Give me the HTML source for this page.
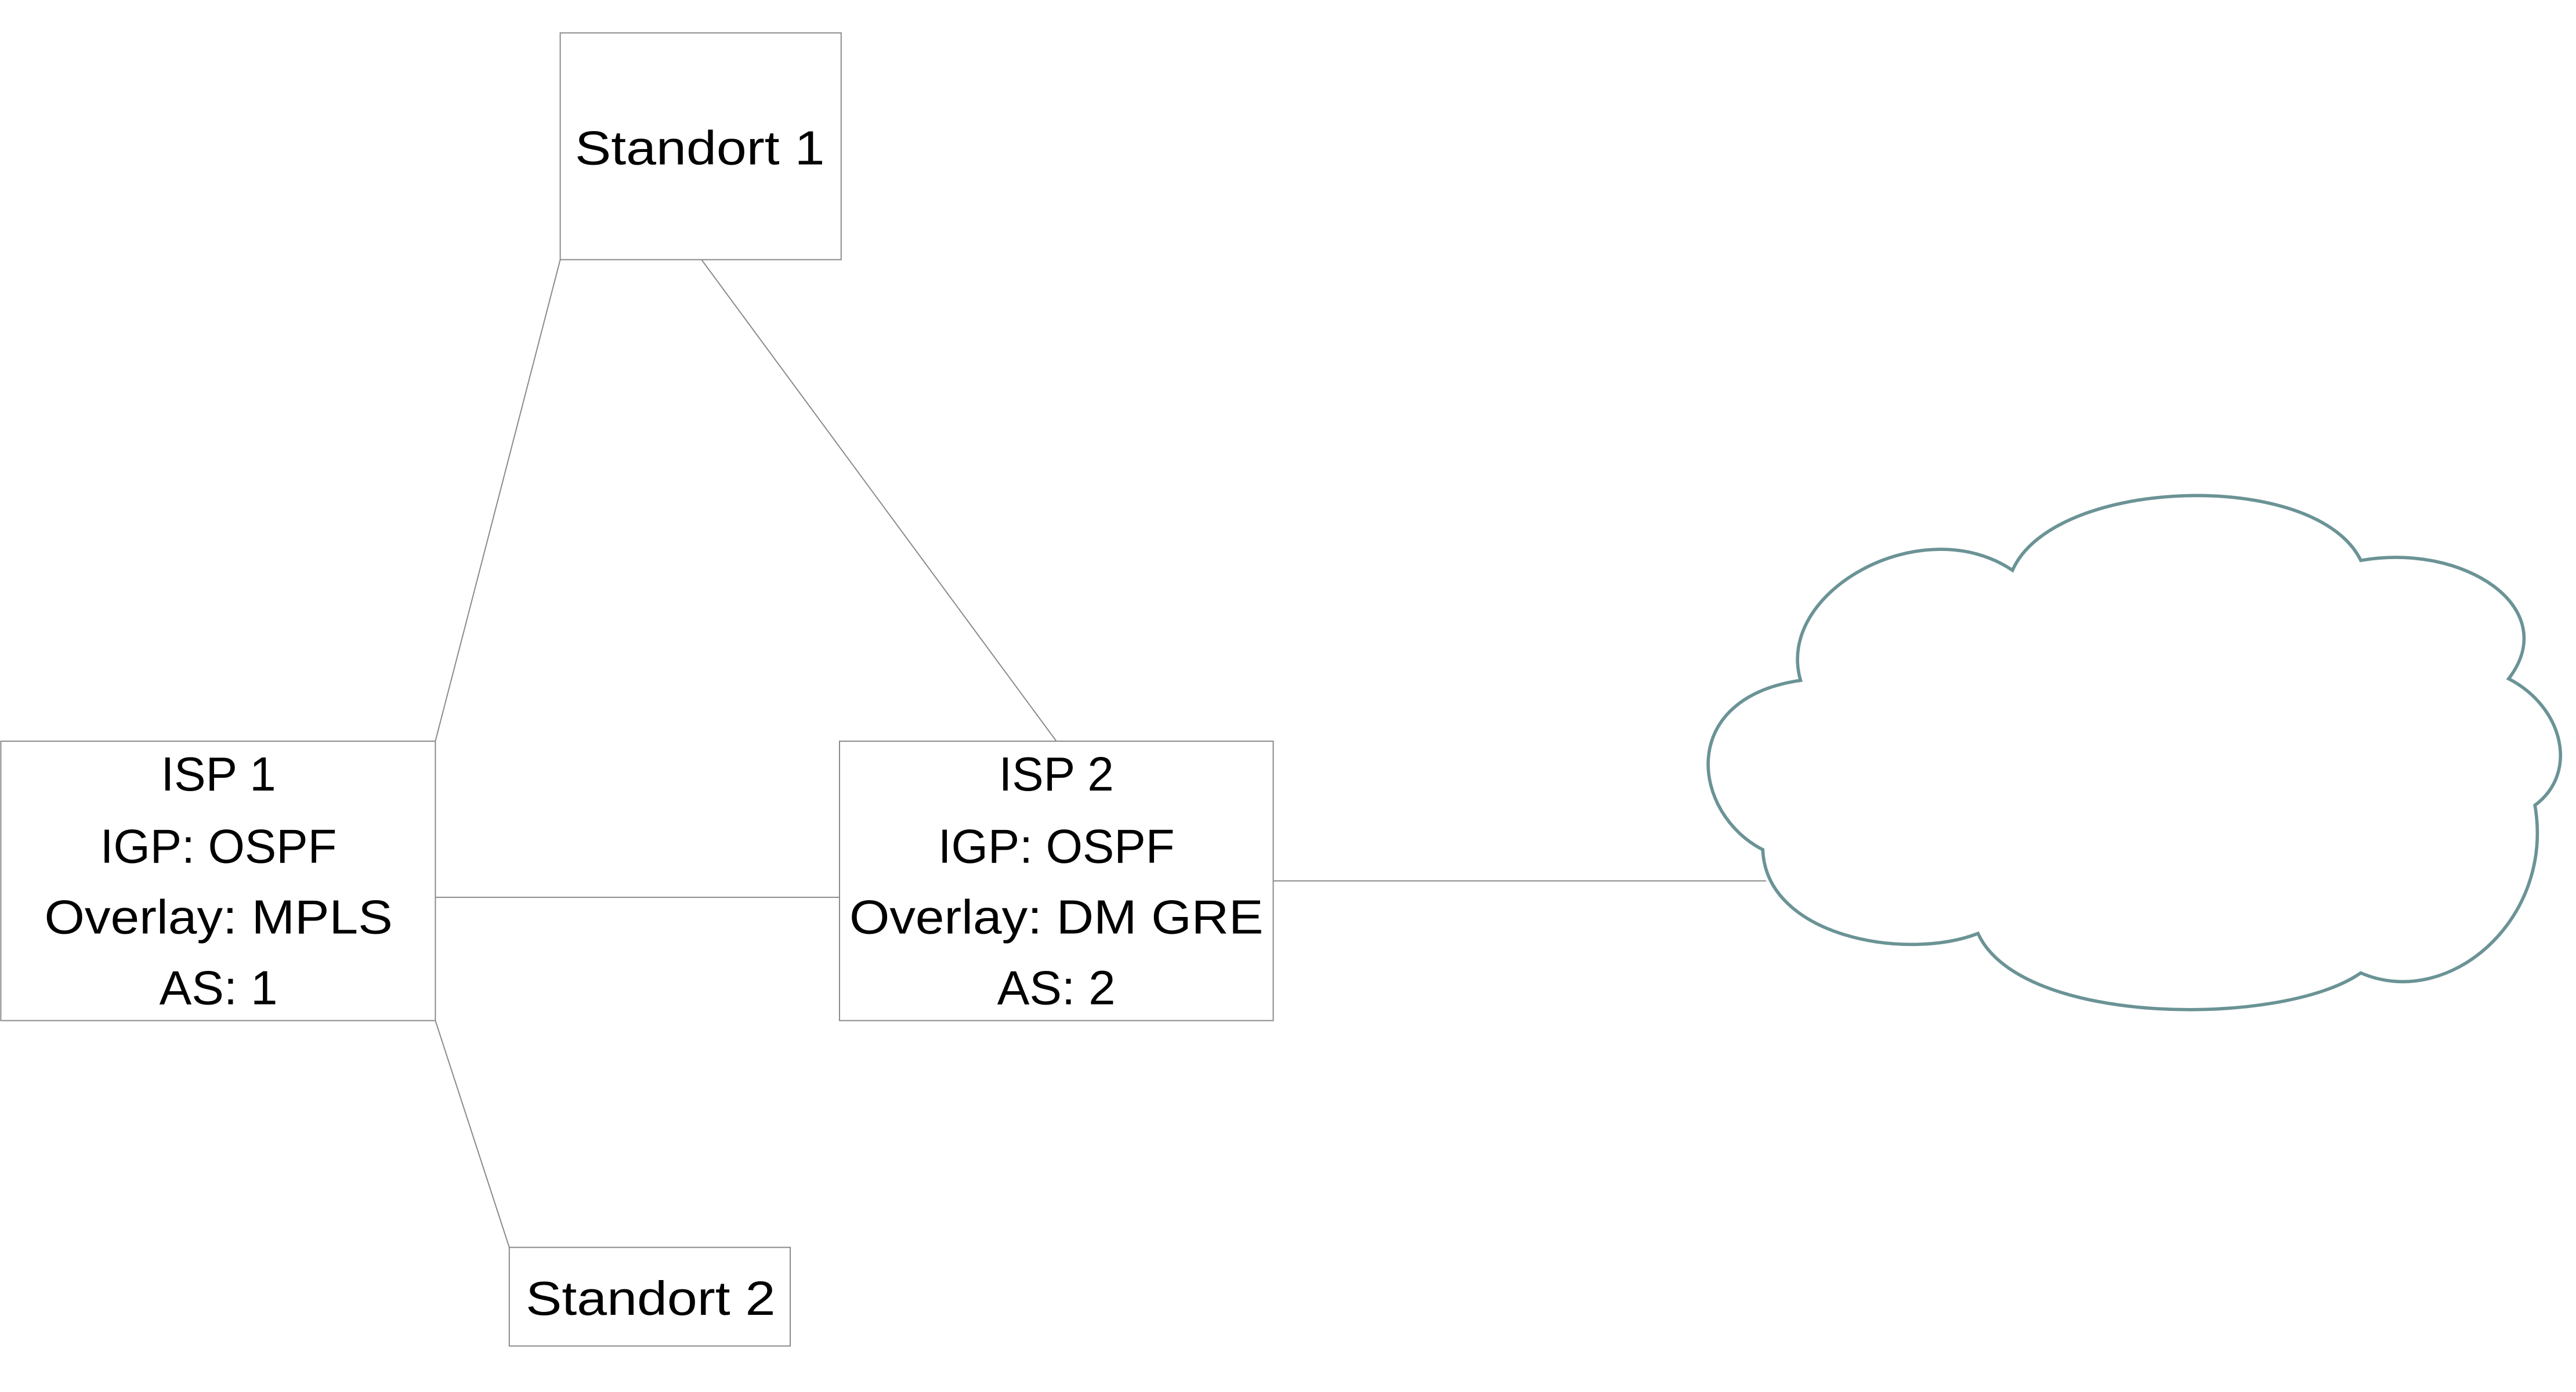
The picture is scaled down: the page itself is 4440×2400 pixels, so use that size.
<!DOCTYPE html>
<html><head><meta charset="utf-8"><style>
html,body{margin:0;padding:0;background:#fff;}
svg{display:block;}
text{font-family:"Liberation Sans",sans-serif;font-size:29px;fill:#000;text-anchor:middle;}
</style></head><body>
<svg width="4440" height="2400" viewBox="0 0 1568 847" preserveAspectRatio="none" xmlns="http://www.w3.org/2000/svg">
<rect width="1568" height="847" fill="#fff"/>
<g stroke="#8a8a8a" stroke-width="0.7" fill="none">
<line x1="341" y1="158" x2="265" y2="451"/>
<line x1="427" y1="158" x2="643" y2="451"/>
<line x1="265" y1="546" x2="511" y2="546"/>
<line x1="265" y1="621" x2="310" y2="759"/>
<line x1="775" y1="536" x2="1075" y2="536"/>
<rect x="341" y="20" width="171" height="138"/>
<rect x="0.5" y="451" width="264.5" height="170"/>
<rect x="511" y="451" width="264" height="170"/>
<rect x="310" y="759" width="171" height="60"/>
</g>
<path d="M1073,517 C1030,495 1020,425 1096,414 C1080,360 1170,310 1225,347 C1250,290 1410,285 1437,341 C1500,330 1560,370 1527,413 C1560,430 1570,470 1543,490 C1555,560 1490,615 1437,592 C1390,625 1230,625 1204,568 C1160,585 1075,570 1073,517 Z" fill="#fff" stroke="#6b9396" stroke-width="2"/>
<text x="426" y="100" textLength="152" lengthAdjust="spacingAndGlyphs">Standort 1</text>
<text x="396" y="800" textLength="152" lengthAdjust="spacingAndGlyphs">Standort 2</text>
<text x="133" y="481" textLength="70" lengthAdjust="spacingAndGlyphs">ISP 1</text>
<text x="133" y="525" textLength="144" lengthAdjust="spacingAndGlyphs">IGP: OSPF</text>
<text x="133" y="568" textLength="212" lengthAdjust="spacingAndGlyphs">Overlay: MPLS</text>
<text x="133" y="611" textLength="72" lengthAdjust="spacingAndGlyphs">AS: 1</text>
<text x="643" y="481" textLength="70" lengthAdjust="spacingAndGlyphs">ISP 2</text>
<text x="643" y="525" textLength="144" lengthAdjust="spacingAndGlyphs">IGP: OSPF</text>
<text x="643" y="568" textLength="252" lengthAdjust="spacingAndGlyphs">Overlay: DM GRE</text>
<text x="643" y="611" textLength="72" lengthAdjust="spacingAndGlyphs">AS: 2</text>
</svg>
</body></html>
